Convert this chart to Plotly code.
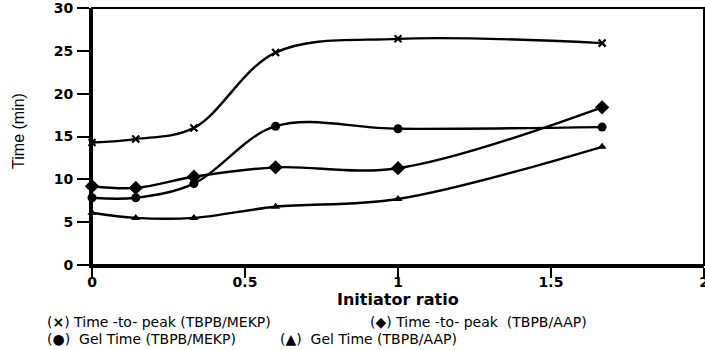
import plotly.graph_objects as go

ratio = [0, 0.143, 0.333, 0.6, 1.0, 1.667]
ttp_mekp = [14.3, 14.7, 16.0, 24.8, 26.4, 25.9]
ttp_aap = [9.2, 9.0, 10.3, 11.4, 11.3, 18.4]
gel_mekp = [7.85, 7.85, 9.5, 16.2, 15.9, 16.1]
gel_aap = [6.1, 5.5, 5.5, 6.8, 7.7, 13.8]

x_ticks = [0, 0.5, 1, 1.5, 2]
x_tick_labels = ["0", "0.5", "1", "1.5", "2"]
y_ticks = [0, 5, 10, 15, 20, 25, 30]
y_tick_labels = ["0", "5", "10", "15", "20", "25", "30"]

legend_texts = [
    "(<b>×</b>) Time -to- peak (TBPB/MEKP)",
    "(◆) Time -to- peak  (TBPB/AAP)",
    "(●)  Gel Time (TBPB/MEKP)",
    "(▲)  Gel Time (TBPB/AAP)",
]

series = [
    (ttp_mekp, dict(symbol="x-thin", size=7, line=dict(width=2.2, color="black"))),
    (ttp_aap, dict(symbol="diamond", size=11)),
    (gel_mekp, dict(symbol="circle", size=9)),
    (gel_aap, dict(symbol="triangle-up", size=8)),
]

fig = go.Figure()
for ys, mk in series:
    m = dict(color="black")
    m.update(mk)
    fig.add_trace(go.Scatter(
        x=ratio, y=ys, mode="lines+markers",
        line=dict(color="black", width=2.4, shape="spline", smoothing=1.0),
        marker=m, cliponaxis=False, showlegend=False,
    ))

wide = "DejaVu Sans, Liberation Sans, sans-serif"
tickfont = dict(size=14, family=wide, color="black")
fig.update_layout(
    width=705, height=350,
    margin=dict(l=92, r=1, t=8, b=85),
    paper_bgcolor="white", plot_bgcolor="white",
    font=dict(family=wide, color="black"),
    xaxis=dict(
        range=[0, 2], tickvals=x_ticks,
        ticktext=["<b>%s</b>" % t for t in x_tick_labels],
        showgrid=False, zeroline=False, automargin=False,
        showline=True, linecolor="black", linewidth=3,
        ticks="outside", ticklen=10, tickwidth=2, tickcolor="black",
        tickfont=tickfont, ticklabeloverflow="allow", ticklabelstandoff=-8,
    ),
    yaxis=dict(
        range=[0, 30], tickvals=y_ticks,
        ticktext=["<b>%s</b>" % t for t in y_tick_labels],
        showgrid=False, zeroline=False, automargin=False,
        showline=True, linecolor="black", linewidth=3,
        ticks="outside", ticklen=12, tickwidth=2, tickcolor="black",
        tickfont=tickfont, ticklabeloverflow="allow", ticklabelstandoff=1,
    ),
    shapes=[dict(type="rect", xref="paper", yref="paper", x0=0, x1=1, y0=0, y1=1,
                 line=dict(color="black", width=2), layer="above")],
)

annotations = [
    dict(text="Time (min)", textangle=-90, xref="paper", yref="paper",
         x=-0.12, y=0.52, xanchor="center", yanchor="middle", showarrow=False,
         font=dict(size=16, family="Liberation Sans, Arial, sans-serif", color="black")),
    dict(text="<b>Initiator ratio</b>", xref="paper", yref="paper",
         x=0.5, y=-0.136, xanchor="center", yanchor="middle", showarrow=False,
         font=dict(size=16, color="black")),
]
leg_pos = [(-0.077, -0.222), (0.451, -0.222), (-0.077, -0.288), (0.304, -0.288)]
for t, (lx, ly) in zip(legend_texts, leg_pos):
    annotations.append(dict(text=t, xref="paper", yref="paper", x=lx, y=ly,
                            xanchor="left", yanchor="middle", showarrow=False,
                            font=dict(size=14, color="black")))
fig.update_layout(annotations=annotations)

fig.write_html("out.html")
